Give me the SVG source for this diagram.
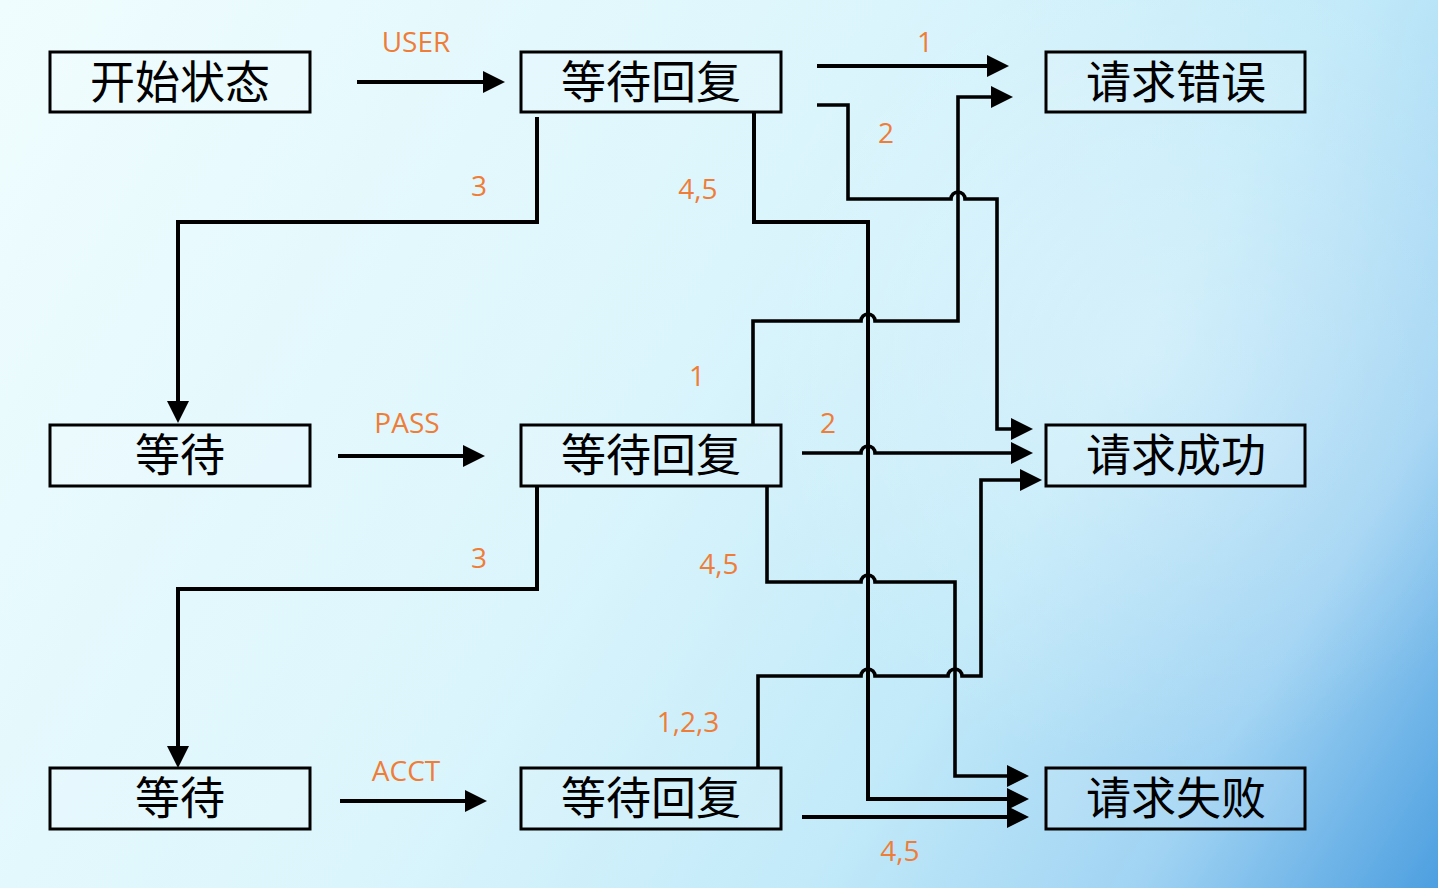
<svg xmlns="http://www.w3.org/2000/svg" width="1438" height="888" viewBox="0 0 1438 888">
<style>
.box{fill:#ffffff;fill-opacity:0.12;stroke:#000;stroke-width:3}
.bt{font-family:"Noto Sans CJK SC","Noto Sans",sans-serif;font-size:45px;font-weight:400;fill:#000;text-anchor:middle}
.lbl{font-family:"Open Sans","Liberation Sans",sans-serif;font-size:28px;fill:#ef7d38;text-anchor:middle}
.c{fill:none;stroke:#000;stroke-width:4;stroke-linejoin:miter}
.t{stroke-width:3.6}
</style>
<defs>
<linearGradient id="bg" x1="0" y1="0" x2="1438" y2="888" gradientUnits="userSpaceOnUse">
<stop offset="0" stop-color="#f0fdfe"/>
<stop offset="0.45" stop-color="#dbf5fc"/>
<stop offset="0.68" stop-color="#c2eaf9"/>
<stop offset="0.85" stop-color="#a0d3f3"/>
<stop offset="1" stop-color="#4d9fe0"/>
</linearGradient>
<radialGradient id="glow" cx="1150" cy="350" r="420" gradientUnits="userSpaceOnUse">
<stop offset="0" stop-color="#ffffff" stop-opacity="0.3"/>
<stop offset="1" stop-color="#ffffff" stop-opacity="0"/>
</radialGradient>
<marker id="ah" markerUnits="userSpaceOnUse" markerWidth="22" markerHeight="22" viewBox="0 0 22 22" refX="14" refY="11" orient="auto">
<path d="M0,0 L22,11 L0,22 z" fill="#000"/>
</marker>
</defs>
<rect width="1438" height="888" fill="url(#bg)"/>
<rect width="1438" height="888" fill="url(#glow)"/>

<g id="connectors" marker-end="url(#ah)">
<path class="c" d="M357,82 H497"/>
<path class="c" d="M338,456 H477"/>
<path class="c" d="M340,801 H479"/>
<path class="c" d="M817,66 H1001"/>
<path class="c t" d="M817,105 H848 V199 H951 a7,7 0 0 1 14,0 H997 V429 H1025"/>
<path class="c" d="M537,117 V222 H178 V415"/>
<path class="c" d="M754,112 V222 H868 V799 H1021"/>
<path class="c t" d="M753,425 V321 H861 a7,7 0 0 1 14,0 H958 V97 H1005"/>
<path class="c t" d="M802,453 H861 a7,7 0 0 1 14,0 H1025"/>
<path class="c" d="M537,486 V589 H178 V760"/>
<path class="c t" d="M767,486 V582 H861 a7,7 0 0 1 14,0 H955 V776 H1021"/>
<path class="c t" d="M758,768 V676 H861 a7,7 0 0 1 14,0 H948 a7,7 0 0 1 14,0 H981 V480 H1034"/>
<path class="c" d="M802,817 H1021"/>
</g>

<g id="labels">
<text class="lbl" x="416" y="52">USER</text>
<text class="lbl" x="925" y="52">1</text>
<text class="lbl" x="886" y="143">2</text>
<text class="lbl" x="479" y="196">3</text>
<text class="lbl" x="698" y="199">4,5</text>
<text class="lbl" x="697" y="386">1</text>
<text class="lbl" x="407" y="433">PASS</text>
<text class="lbl" x="828" y="433">2</text>
<text class="lbl" x="479" y="568">3</text>
<text class="lbl" x="719" y="574">4,5</text>
<text class="lbl" x="688" y="732">1,2,3</text>
<text class="lbl" x="406" y="781">ACCT</text>
<text class="lbl" x="900" y="861">4,5</text>
</g>

<g id="n-start"><rect class="box" x="50" y="52" width="260" height="60"/><text class="bt" x="180" y="99">开始状态</text></g>
<g id="n-wait-reply-1"><rect class="box" x="521" y="52" width="260" height="60"/><text class="bt" x="651" y="99">等待回复</text></g>
<g id="n-error"><rect class="box" x="1046" y="52" width="259" height="60"/><text class="bt" x="1176" y="99">请求错误</text></g>
<g id="n-wait-2"><rect class="box" x="50" y="425" width="260" height="61"/><text class="bt" x="180" y="472">等待</text></g>
<g id="n-wait-reply-2"><rect class="box" x="521" y="425" width="260" height="61"/><text class="bt" x="651" y="472">等待回复</text></g>
<g id="n-success"><rect class="box" x="1046" y="425" width="259" height="61"/><text class="bt" x="1176" y="472">请求成功</text></g>
<g id="n-wait-3"><rect class="box" x="50" y="768" width="260" height="61"/><text class="bt" x="180" y="815">等待</text></g>
<g id="n-wait-reply-3"><rect class="box" x="521" y="768" width="260" height="61"/><text class="bt" x="651" y="815">等待回复</text></g>
<g id="n-fail"><rect class="box" x="1046" y="768" width="259" height="61"/><text class="bt" x="1176" y="815">请求失败</text></g>
</svg>
